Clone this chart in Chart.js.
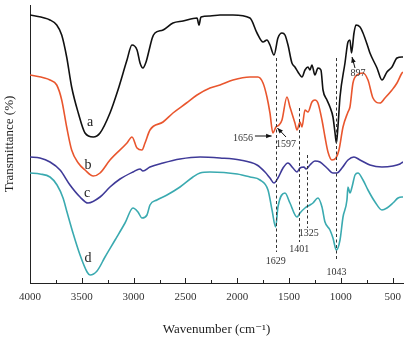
<!DOCTYPE html>
<html>
<head>
<meta charset="utf-8">
<script src="https://cdn.jsdelivr.net/npm/chart.js@4"></script>
<style>
  html, body { margin: 0; padding: 0; background: #fff; }
  #box { width: 413px; height: 337px; }
</style>
</head>
<body>
<div id="box"><canvas id="ftir"></canvas></div>
<script>
// x axis ticks (wavenumber, cm-1)
const majorTicks = [4000, 3500, 3000, 2500, 2000, 1500, 1000, 500];
const minorTicks = [3750, 3250, 2750, 2250, 1750, 1250, 750];

// curve a (black)
const waveA = [4000, 3807, 3742, 3694, 3646, 3598, 3534, 3469, 3389, 3324, 3228, 3151, 3064, 3016, 2967, 2938, 2910, 2880, 2850, 2820, 2794, 2716, 2620, 2523, 2388, 2369, 2350, 2263, 2166, 2041, 1877, 1809, 1751, 1713, 1684, 1645, 1607, 1568, 1539, 1510, 1472, 1443, 1414, 1375, 1346, 1317, 1298, 1279, 1250, 1221, 1192, 1172, 1134, 1105, 1076, 1056, 1043, 1028, 1008, 960, 931, 912, 897, 873, 854, 815, 786, 738, 719, 651, 603, 555, 506, 458, 410, 400];
const transA = [268, 263, 258, 248, 226, 196, 170, 150, 146, 150, 170, 193, 223, 238, 233, 220, 215, 221, 233, 245, 250, 253, 260, 262, 265, 258, 266, 267, 268, 268, 265, 250, 241, 243, 238, 228, 245, 250, 248, 238, 220, 216, 211, 206, 213, 216, 213, 218, 208, 215, 213, 193, 183, 176, 166, 150, 140, 156, 186, 220, 241, 243, 230, 250, 258, 256, 250, 236, 230, 215, 203, 211, 216, 225, 226, 226];

// curve b (orange)
const waveB = [4000, 3807, 3742, 3694, 3646, 3598, 3534, 3469, 3389, 3324, 3228, 3064, 3016, 2967, 2920, 2890, 2842, 2716, 2620, 2490, 2388, 2263, 2166, 2041, 1877, 1800, 1751, 1713, 1684, 1656, 1626, 1597, 1568, 1520, 1491, 1443, 1423, 1394, 1375, 1346, 1317, 1279, 1250, 1221, 1182, 1153, 1124, 1086, 1047, 1018, 979, 931, 912, 883, 844, 786, 738, 690, 622, 574, 506, 458, 410, 400];
const transB = [208, 203, 198, 183, 156, 133, 120, 113, 107, 110, 123, 140, 146, 135, 133, 140, 153, 161, 170, 180, 188, 195, 198, 203, 206, 206, 200, 186, 170, 150, 156, 158, 163, 186, 176, 160, 153, 161, 156, 173, 171, 181, 183, 180, 163, 146, 131, 123, 125, 133, 156, 171, 176, 200, 208, 210, 203, 185, 180, 185, 193, 200, 210, 211];

// curve c (blue)
const waveC = [4000, 3904, 3807, 3710, 3614, 3517, 3440, 3324, 3228, 3131, 3006, 2938, 2910, 2842, 2716, 2552, 2359, 2166, 1973, 1809, 1732, 1684, 1645, 1607, 1558, 1510, 1462, 1423, 1394, 1356, 1336, 1298, 1250, 1201, 1134, 1076, 1037, 989, 931, 873, 815, 719, 603, 497, 429, 400];
const transC = [126, 125, 121, 113, 98, 86, 80, 86, 96, 104, 111, 114, 112, 116, 120, 124, 126, 125, 123, 118, 111, 105, 100, 105, 115, 120, 115, 111, 115, 116, 114, 118, 122, 121, 115, 110, 110, 115, 123, 126, 123, 118, 116, 117, 119, 121];

// curve d (teal)
const waveD = [4000, 3904, 3807, 3739, 3681, 3643, 3585, 3517, 3449, 3420, 3353, 3276, 3179, 3083, 3006, 2958, 2919, 2871, 2842, 2775, 2678, 2552, 2427, 2359, 2263, 2000, 1877, 1780, 1703, 1664, 1629, 1607, 1539, 1491, 1423, 1394, 1346, 1298, 1269, 1221, 1182, 1153, 1105, 1076, 1043, 1008, 979, 941, 931, 912, 892, 863, 835, 786, 738, 670, 603, 555, 497, 448, 410, 400];
const transD = [110, 109, 106, 98, 85, 71, 50, 28, 11, 8, 12, 26, 43, 60, 75, 71, 65, 68, 78, 83, 88, 96, 106, 110, 111, 109, 106, 103, 93, 73, 56, 76, 90, 80, 66, 70, 75, 78, 80, 85, 76, 61, 53, 45, 33, 43, 66, 83, 96, 90, 96, 108, 110, 103, 93, 81, 73, 75, 80, 85, 86, 86];

// marked bands: wavenumber, top and bottom of dashed line (transmittance units)
const bandWave = [1629, 1401, 1325, 1043];
const bandTop = [225, 175, 128, 225];
const bandBottom = [31, 41, 55, 23];

const serif = '"Liberation Serif", "DejaVu Serif", serif';

function pts(w, t) {
  return w.map((x, i) => ({ x: x, y: t[i] }));
}

function line(label, w, t, color) {
  return {
    label: label,
    data: pts(w, t),
    borderColor: color,
    borderWidth: 1.6,
    pointRadius: 0,
    cubicInterpolationMode: 'monotone',
    fill: false
  };
}

// text, dashed lines, arrows and inward ticks
const annotate = {
  id: 'annotate',
  afterDatasetsDraw(chart) {
    const ctx = chart.ctx;
    const xs = chart.scales.x, ys = chart.scales.y;
    const X = v => xs.getPixelForValue(v);
    const Y = v => ys.getPixelForValue(v);
    ctx.save();

    // ticks pointing into the plot
    ctx.strokeStyle = '#222';
    ctx.lineWidth = 1;
    const base = chart.chartArea.bottom;
    majorTicks.forEach(v => {
      ctx.beginPath(); ctx.moveTo(Math.round(X(v)) + 0.5, base); ctx.lineTo(Math.round(X(v)) + 0.5, base - 5); ctx.stroke();
    });
    minorTicks.forEach(v => {
      ctx.beginPath(); ctx.moveTo(Math.round(X(v)) + 0.5, base); ctx.lineTo(Math.round(X(v)) + 0.5, base - 3); ctx.stroke();
    });

    // dashed band markers
    ctx.setLineDash([3, 2.5]);
    ctx.strokeStyle = '#333';
    bandWave.forEach((w, i) => {
      ctx.beginPath();
      ctx.moveTo(Math.round(X(w)) + 0.5, Y(bandTop[i]));
      ctx.lineTo(Math.round(X(w)) + 0.5, Y(bandBottom[i]));
      ctx.stroke();
    });
    ctx.setLineDash([]);

    // band labels
    ctx.fillStyle = '#333';
    ctx.font = '10px ' + serif;
    ctx.textAlign = 'center';
    ctx.textBaseline = 'middle';
    ctx.fillText('1629', X(1629), Y(22));
    ctx.fillText('1401', X(1401), Y(34));
    ctx.fillText('1325', X(1310), Y(50));
    ctx.fillText('1043', X(1043), Y(11));
    ctx.fillText('1656', X(1944), Y(145));
    ctx.fillText('1597', X(1530), Y(139));
    ctx.fillText('897', X(835), Y(210));

    // arrows
    const arrow = (x1, y1, x2, y2) => {
      const a = Math.atan2(y2 - y1, x2 - x1);
      ctx.strokeStyle = '#111';
      ctx.fillStyle = '#111';
      ctx.lineWidth = 1;
      ctx.beginPath(); ctx.moveTo(x1, y1); ctx.lineTo(x2, y2); ctx.stroke();
      ctx.beginPath();
      ctx.moveTo(x2, y2);
      ctx.lineTo(x2 - 6 * Math.cos(a - 0.4), y2 - 6 * Math.sin(a - 0.4));
      ctx.lineTo(x2 - 6 * Math.cos(a + 0.4), y2 - 6 * Math.sin(a + 0.4));
      ctx.closePath(); ctx.fill();
    };
    arrow(X(1829), Y(147), X(1668), Y(147));
    arrow(X(1529), Y(146), X(1612), Y(155));
    arrow(X(863), Y(215), X(892), Y(226));

    // curve letters
    ctx.fillStyle = '#222';
    ctx.font = '14px ' + serif;
    ctx.fillText('a', X(3421), Y(161));
    ctx.fillText('b', X(3440), Y(118));
    ctx.fillText('c', X(3450), Y(90));
    ctx.fillText('d', X(3440), Y(25));
    ctx.restore();
  }
};

new Chart(document.getElementById('ftir'), {
  type: 'line',
  data: {
    datasets: [
      line('a', waveA, transA, '#111111'),
      line('b', waveB, transB, '#e9562e'),
      line('c', waveC, transC, '#3f3a98'),
      line('d', waveD, transD, '#3aaab0')
    ]
  },
  options: {
    responsive: true,
    maintainAspectRatio: false,
    animation: false,
    layout: { padding: { top: 5, right: 10, left: 0, bottom: 0 } },
    plugins: {
      legend: { display: false },
      tooltip: { enabled: false }
    },
    scales: {
      x: {
        type: 'linear',
        reverse: true,
        min: 400,
        max: 4000,
        afterBuildTicks: s => { s.ticks = majorTicks.map(v => ({ value: v })); },
        afterFit: s => { s.height = 54; },
        grid: { display: false, drawTicks: false },
        border: { display: true, color: '#222', width: 1 },
        ticks: {
          color: '#333',
          padding: 8,
          maxRotation: 0,
          autoSkip: false,
          font: { family: serif, size: 11 },
          callback: v => String(v)
        },
        title: {
          display: true,
          text: 'Wavenumber (cm⁻¹)',
          color: '#222',
          font: { family: serif, size: 13 },
          padding: { top: 6, bottom: 0 }
        }
      },
      y: {
        min: 0,
        max: 278,
        afterFit: s => { s.width = 30; },
        grid: { display: false, drawTicks: false },
        border: { display: true, color: '#222', width: 1 },
        ticks: { display: false },
        title: {
          display: true,
          text: 'Transmittance (%)',
          color: '#222',
          font: { family: serif, size: 13 },
          padding: { top: 2, bottom: 0 }
        }
      }
    }
  },
  plugins: [annotate]
});
</script>
</body>
</html>
